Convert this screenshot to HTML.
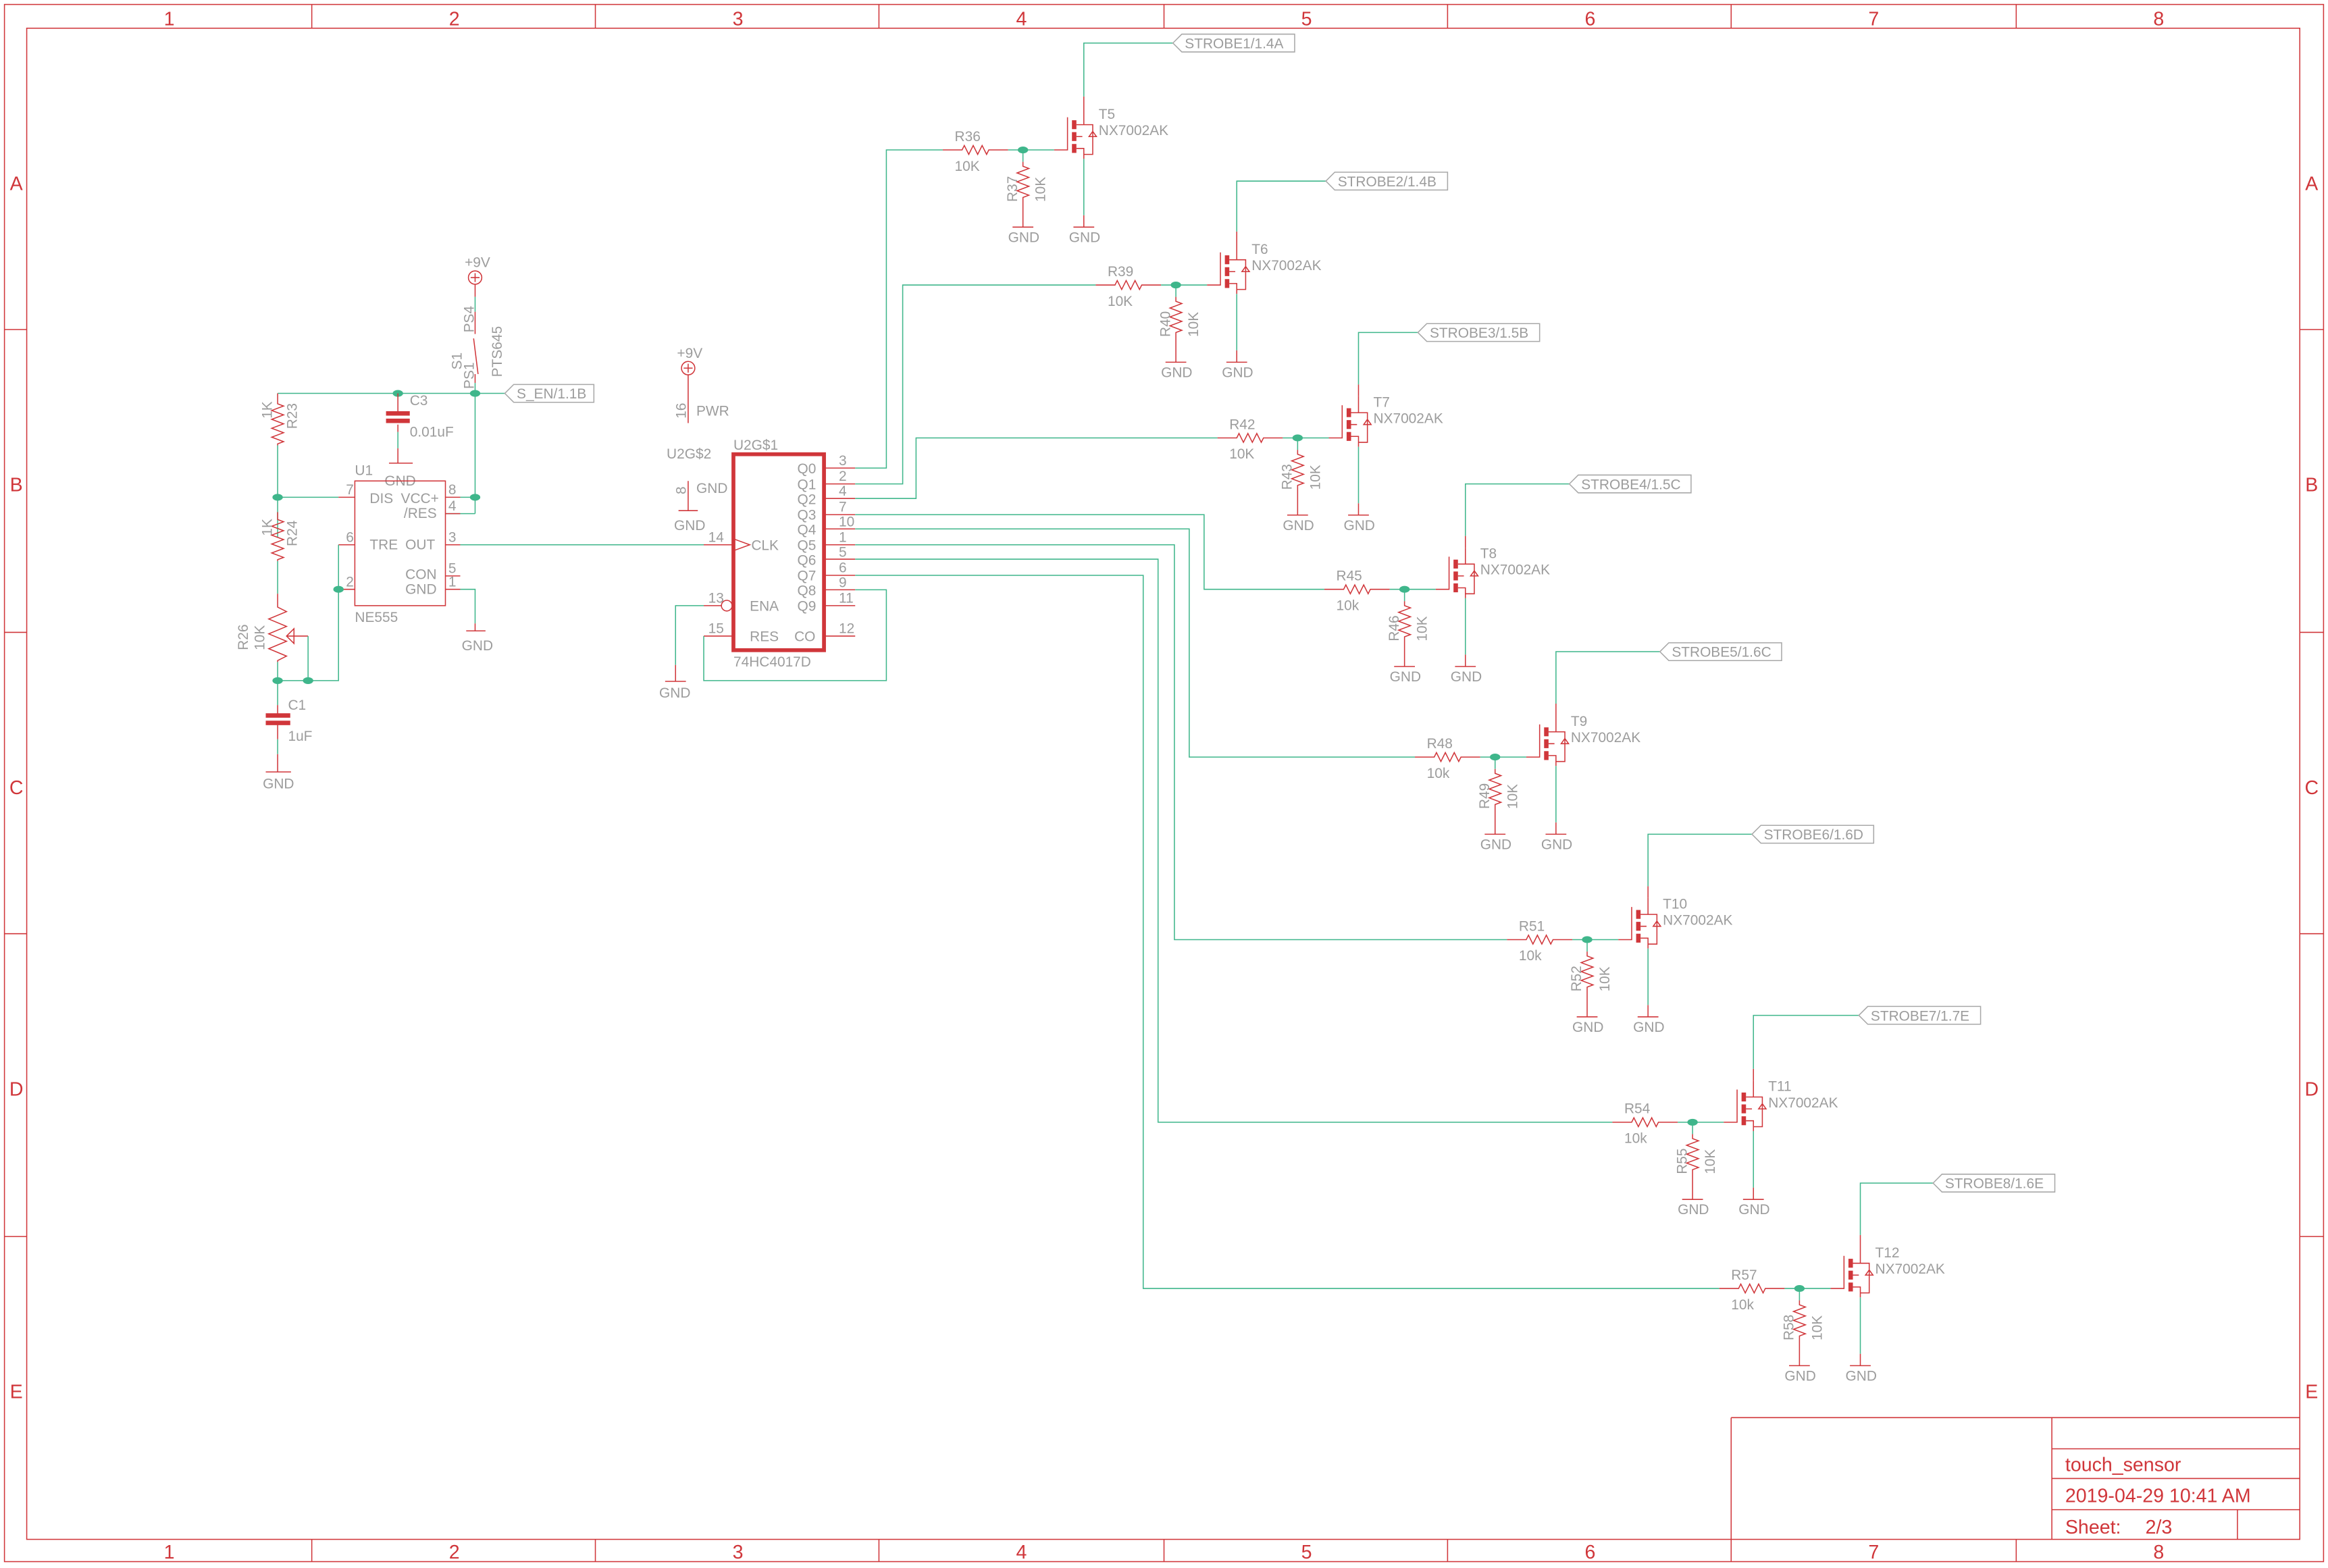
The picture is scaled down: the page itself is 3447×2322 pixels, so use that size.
<!DOCTYPE html>
<html><head><meta charset="utf-8"><style>
html,body{margin:0;padding:0;background:#fff}
svg{display:block}
text{font-family:"Liberation Sans",sans-serif}
.g{fill:#9c9c9c;font-size:9.5px}
.f{fill:#d0363a;font-size:13px}
.r{stroke:#d0363a;fill:none;stroke-width:0.7}
.n{stroke:#3fb68b;fill:none;stroke-width:0.7}
.fl{stroke:#a8a8a8;fill:#fff;stroke-width:0.7}
</style></head><body>
<svg width="3447" height="2322" viewBox="0 0 1568 1056.3" preserveAspectRatio="none" xmlns="http://www.w3.org/2000/svg">
<defs>
<g id="st">
<path class="r" d="M-54,0H-41l1.5,-3 3,6 3,-6 3,6 3,-6 3,6 1.5,-3H-10"/>
<path class="n" d="M-10,0H21"/>
<path class="r" d="M21,0H30V-22"/>
<path class="n" d="M0,0V8"/>
<path class="r" d="M0,8V11l4,1.5 -8,3 8,3 -8,3 8,3 -8,3 8,3 -4,1.5V52M-7,52H7"/>
<ellipse cx="0" cy="0" rx="3.5" ry="2.3" fill="#3fb68b"/>
<rect x="33" y="-20" width="3" height="6" fill="#d0363a"/>
<rect x="33" y="-12" width="3" height="6" fill="#d0363a"/>
<rect x="33" y="-4" width="3" height="6" fill="#d0363a"/>
<path class="r" d="M36,-17H41V-28M36,-1H41V6M36,-9H40M41,44V52M34,52H48M41,-17H47V3H41M44.5,-9H49.5L47,-12.5Z"/>
<path class="n" d="M41,6V44"/>
</g>
</defs>
<!-- frame -->
<rect x="3" y="3" width="1562" height="1049" class="r"/>
<rect x="18" y="19" width="1531" height="1018" class="r"/>
<path class="r" d="M210,3V19M401,3V19M592,3V19M784,3V19M975,3V19M1166,3V19M1358,3V19M210,1037V1052M401,1037V1052M592,1037V1052M784,1037V1052M975,1037V1052M1166,1037V1052M1358,1037V1052M3,222H18M3,426H18M3,629H18M3,833H18M1549,222H1565M1549,426H1565M1549,629H1565M1549,833H1565"/>
<g class="f" text-anchor="middle">
<text x="114" y="17">1</text><text x="306" y="17">2</text><text x="497" y="17">3</text><text x="688" y="17">4</text><text x="880" y="17">5</text><text x="1071" y="17">6</text><text x="1262" y="17">7</text><text x="1454" y="17">8</text>
<text x="114" y="1050">1</text><text x="306" y="1050">2</text><text x="497" y="1050">3</text><text x="688" y="1050">4</text><text x="880" y="1050">5</text><text x="1071" y="1050">6</text><text x="1262" y="1050">7</text><text x="1454" y="1050">8</text>
<text x="11" y="128">A</text><text x="11" y="331">B</text><text x="11" y="535">C</text><text x="11" y="738">D</text><text x="11" y="942">E</text>
<text x="1557" y="128">A</text><text x="1557" y="331">B</text><text x="1557" y="535">C</text><text x="1557" y="738">D</text><text x="1557" y="942">E</text>
</g>
<!-- title block -->
<path class="r" d="M1166,955H1549M1166,955V1037M1382,955V1037M1382,976H1549M1382,996H1549M1382,1017H1549M1507,1017V1037"/>
<text class="f" x="1391" y="991">touch_sensor</text>
<text class="f" x="1391" y="1012">2019-04-29 10:41 AM</text>
<text class="f" x="1391" y="1033">Sheet:</text><text class="f" x="1445" y="1033">2/3</text>

<!-- NE555 section -->
<circle cx="320" cy="187" r="4.5" class="r" stroke-width="1.2"/>
<path class="r" d="M317,187H323M320,184V190M320,191.5V200M320,210V225M319,228L322,252M320,252V258"/>
<path class="n" d="M320,200V210M320,258V346M187,265H340M300,346H320"/>
<text class="g" x="313" y="180">+9V</text>
<text class="g" transform="translate(319,224) rotate(-90)">PS4</text>
<text class="g" transform="translate(319,262) rotate(-90)">PS1</text>
<text class="g" transform="translate(311,249) rotate(-90)">S1</text>
<text class="g" transform="translate(338,254) rotate(-90)">PTS645</text>
<polygon class="fl" points="340,265 346,259 400,259 400,271 346,271"/>
<text class="g" x="348" y="268.5">S_EN/1.1B</text>
<ellipse cx="268" cy="265" rx="3.5" ry="2.3" fill="#3fb68b"/><ellipse cx="320" cy="265" rx="3.5" ry="2.3" fill="#3fb68b"/><ellipse cx="320" cy="335" rx="3.5" ry="2.3" fill="#3fb68b"/>
<!-- C3 -->
<path class="r" d="M268,265V279M268,286V291M262,312H278"/>
<path class="n" d="M268,291V302"/><path class="r" d="M268,302V312"/>
<rect x="260" y="277" width="16" height="3" fill="#d0363a"/><rect x="260" y="282" width="16" height="3" fill="#d0363a"/>
<text class="g" x="276" y="273">C3</text><text class="g" x="276" y="294">0.01uF</text><text class="g" x="259" y="327">GND</text>
<!-- R23 R24 -->
<path class="r" d="M187,265V272l4,1.5 -8,3 8,3 -8,3 8,3 -8,3 8,3 -8,3 8,3 -4,1.5V300"/>
<path class="n" d="M187,300V362"/>
<path class="r" d="M187,345V350l4,1.5 -8,3 8,3 -8,3 8,3 -8,3 8,3 -8,3 8,3 -4,1.5V378"/>
<path class="n" d="M187,378V400"/>
<text class="g" transform="translate(183,282) rotate(-90)">1K</text><text class="g" transform="translate(200,289) rotate(-90)">R23</text>
<text class="g" transform="translate(183,361) rotate(-90)">1K</text><text class="g" transform="translate(200,368) rotate(-90)">R24</text>
<ellipse cx="187" cy="335" rx="3.5" ry="2.3" fill="#3fb68b"/>
<path class="n" d="M187,335H228"/><path class="r" d="M228,335H239M228,367H239M228,397H239"/>
<!-- R26 pot -->
<path class="r" d="M187,400V409l6,3 -12,5 12,5 -12,5 12,5 -12,5 12,5 -6,3V446M193,428.5H207.5M193,428.5L198,423.5V433.5Z"/>
<path class="n" d="M187,446V475M207.5,428.5V458.5M187,458.5H228V367"/>
<ellipse cx="187" cy="458.5" rx="3.5" ry="2.3" fill="#3fb68b"/><ellipse cx="207.5" cy="458.5" rx="3.5" ry="2.3" fill="#3fb68b"/><ellipse cx="228" cy="397" rx="3.5" ry="2.3" fill="#3fb68b"/>
<text class="g" transform="translate(167,438) rotate(-90)">R26</text><text class="g" transform="translate(178,438) rotate(-90)">10K</text>
<!-- C1 -->
<path class="r" d="M187,475V482M187,488V498M187,508V520M179,520H196"/><path class="n" d="M187,498V508"/>
<rect x="179" y="480.5" width="16.5" height="3" fill="#d0363a"/><rect x="179" y="485.5" width="16.5" height="3" fill="#d0363a"/>
<text class="g" x="194" y="478">C1</text><text class="g" x="194" y="499">1uF</text><text class="g" x="177" y="531">GND</text>
<!-- NE555 box -->
<rect x="239" y="324" width="61" height="84" class="r"/>
<path class="r" d="M300,335H310M300,346H310M300,367H310M300,388H310M300,397H310"/>
<path class="n" d="M310,335H320M310,367H494M310,397H320V420"/><path class="r" d="M320,420V425M314,425H327"/>
<g class="g" font-size="8px"><text x="233" y="333">7</text><text x="233" y="365">6</text><text x="233" y="395">2</text><text x="302" y="333">8</text><text x="302" y="344">4</text><text x="302" y="365">3</text><text x="302" y="386">5</text><text x="302" y="395">1</text></g>
<g class="g" font-size="8.5px"><text x="249" y="339">DIS</text><text x="270" y="339">VCC+</text><text x="272" y="349">/RES</text><text x="249" y="370">TRE</text><text x="273" y="370">OUT</text><text x="273" y="390">CON</text><text x="273" y="400">GND</text></g>
<text class="g" x="239" y="320">U1</text><text class="g" x="239" y="419">NE555</text><text class="g" x="311" y="438">GND</text>

<!-- 4017 power -->
<circle cx="463.5" cy="248" r="4.5" class="r" stroke-width="1.2"/>
<path class="r" d="M460.5,248H466.5M463.5,245V251M463.5,252.5V285M463.5,324V344M457,344H470"/>
<text class="g" x="456" y="241">+9V</text>
<text class="g" font-size="6.5px" transform="translate(462,282) rotate(-90)">16</text><text class="g" font-size="6.5px" x="469" y="280">PWR</text>
<text class="g" x="449" y="309">U2G$2</text>
<text class="g" font-size="6.5px" transform="translate(462,333) rotate(-90)">8</text><text class="g" font-size="6.5px" x="469" y="332">GND</text>
<text class="g" x="454" y="357">GND</text>
<!-- 4017 -->
<rect x="494" y="306" width="61" height="132" fill="none" stroke="#d0363a" stroke-width="2.6"/>
<text class="g" x="494" y="303">U2G$1</text><text class="g" x="494" y="449">74HC4017D</text>
<path class="r" d="M555,315.3H576M555,326H576M555,335.8H576M555,346.7H576M555,356.3H576M555,367H576M555,376.7H576M555,387.6H576M555,397.3H576M555,408H576M555,428.5H576M474,367H494M474,408H486M474,428.5H493M494,363L505,367L494,371"/>
<circle cx="489.5" cy="408" r="3.6" class="r"/>
<g class="g" font-size="8.5px"><text x="537" y="319">Q0</text><text x="537" y="329.5">Q1</text><text x="537" y="339.5">Q2</text><text x="537" y="350">Q3</text><text x="537" y="360">Q4</text><text x="537" y="370.5">Q5</text><text x="537" y="380.5">Q6</text><text x="537" y="391">Q7</text><text x="537" y="401">Q8</text><text x="537" y="411.5">Q9</text><text x="535" y="432">CO</text><text x="506" y="370.5">CLK</text><text x="505" y="411.5">ENA</text><text x="505" y="432">RES</text></g>
<g class="g" font-size="7.5px"><text x="565" y="313.5">3</text><text x="565" y="324">2</text><text x="565" y="334">4</text><text x="565" y="344.5">7</text><text x="565" y="354.5">10</text><text x="565" y="365">1</text><text x="565" y="375">5</text><text x="565" y="385.5">6</text><text x="565" y="395.5">9</text><text x="565" y="406">11</text><text x="565" y="426.5">12</text><text x="477" y="365">14</text><text x="477" y="406">13</text><text x="477" y="426.5">15</text></g>
<path class="n" d="M474,408H455V448M576,397.3H597V458.5H474V428.5"/>
<path class="r" d="M455,448V459M448,459H462"/>
<text class="g" x="444" y="470">GND</text>
<!-- Q nets -->
<path class="n" d="M576,315.3H597V101H635M576,326H608V192H738M576,335.8H617V295H820M576,346.7H811V397H892M576,356.3H801V510H953M576,367H791V633H1015M576,376.7H780V756H1086M576,387.6H770V868H1158"/>
<!-- stages -->
<use href="#st" transform="translate(689,101)"/>
<use href="#st" transform="translate(792,192)"/>
<use href="#st" transform="translate(874,295)"/>
<use href="#st" transform="translate(946,397)"/>
<use href="#st" transform="translate(1007,510)"/>
<use href="#st" transform="translate(1069,633)"/>
<use href="#st" transform="translate(1140,756)"/>
<use href="#st" transform="translate(1212,868)"/>
<path class="r" d="M730,73V65M833,164V156M915,267V259M987,369V361M1048,482V474M1110,605V597M1181,728V720M1253,840V832"/>
<path class="n" d="M730,65V29H790M833,156V122H893M915,259V224H955M987,361V326H1057M1048,474V439H1118M1110,597V562H1180M1181,720V684H1252M1253,832V797H1302"/>
<g class="fl">
<polygon points="790,29 796,23 872,23 872,35 796,35"/>
<polygon points="893,122 899,116 975,116 975,128 899,128"/>
<polygon points="955,224 961,218 1037,218 1037,230 961,230"/>
<polygon points="1057,326 1063,320 1139,320 1139,332 1063,332"/>
<polygon points="1118,439 1124,433 1200,433 1200,445 1124,445"/>
<polygon points="1180,562 1186,556 1262,556 1262,568 1186,568"/>
<polygon points="1252,684 1258,678 1334,678 1334,690 1258,690"/>
<polygon points="1302,797 1308,791 1384,791 1384,803 1308,803"/>
</g>
<g class="g" font-size="9px">
<text x="798" y="32.5">STROBE1/1.4A</text><text x="901" y="125.5">STROBE2/1.4B</text><text x="963" y="227.5">STROBE3/1.5B</text><text x="1065" y="329.5">STROBE4/1.5C</text><text x="1126" y="442.5">STROBE5/1.6C</text><text x="1188" y="565.5">STROBE6/1.6D</text><text x="1260" y="687.5">STROBE7/1.7E</text><text x="1310" y="800.5">STROBE8/1.6E</text>
</g>
<g class="g">
<text x="643" y="95">R36</text><text x="643" y="115">10K</text><text x="740" y="80">T5</text><text x="740" y="91">NX7002AK</text><text x="679" y="163">GND</text><text x="720" y="163">GND</text>
<text x="746" y="186">R39</text><text x="746" y="206">10K</text><text x="843" y="171">T6</text><text x="843" y="182">NX7002AK</text><text x="782" y="254">GND</text><text x="823" y="254">GND</text>
<text x="828" y="289">R42</text><text x="828" y="309">10K</text><text x="925" y="274">T7</text><text x="925" y="285">NX7002AK</text><text x="864" y="357">GND</text><text x="905" y="357">GND</text>
<text x="900" y="391">R45</text><text x="900" y="411">10k</text><text x="997" y="376">T8</text><text x="997" y="387">NX7002AK</text><text x="936" y="459">GND</text><text x="977" y="459">GND</text>
<text x="961" y="504">R48</text><text x="961" y="524">10k</text><text x="1058" y="489">T9</text><text x="1058" y="500">NX7002AK</text><text x="997" y="572">GND</text><text x="1038" y="572">GND</text>
<text x="1023" y="627">R51</text><text x="1023" y="647">10k</text><text x="1120" y="612">T10</text><text x="1120" y="623">NX7002AK</text><text x="1059" y="695">GND</text><text x="1100" y="695">GND</text>
<text x="1094" y="750">R54</text><text x="1094" y="770">10k</text><text x="1191" y="735">T11</text><text x="1191" y="746">NX7002AK</text><text x="1130" y="818">GND</text><text x="1171" y="818">GND</text>
<text x="1166" y="862">R57</text><text x="1166" y="882">10k</text><text x="1263" y="847">T12</text><text x="1263" y="858">NX7002AK</text><text x="1202" y="930">GND</text><text x="1243" y="930">GND</text>
<text transform="translate(685,136) rotate(-90)">R37</text><text transform="translate(704,136) rotate(-90)">10K</text>
<text transform="translate(788,227) rotate(-90)">R40</text><text transform="translate(807,227) rotate(-90)">10K</text>
<text transform="translate(870,330) rotate(-90)">R43</text><text transform="translate(889,330) rotate(-90)">10K</text>
<text transform="translate(942,432) rotate(-90)">R46</text><text transform="translate(961,432) rotate(-90)">10K</text>
<text transform="translate(1003,545) rotate(-90)">R49</text><text transform="translate(1022,545) rotate(-90)">10K</text>
<text transform="translate(1065,668) rotate(-90)">R52</text><text transform="translate(1084,668) rotate(-90)">10K</text>
<text transform="translate(1136,791) rotate(-90)">R55</text><text transform="translate(1155,791) rotate(-90)">10K</text>
<text transform="translate(1208,903) rotate(-90)">R58</text><text transform="translate(1227,903) rotate(-90)">10K</text>
</g>
</svg>
</body></html>
